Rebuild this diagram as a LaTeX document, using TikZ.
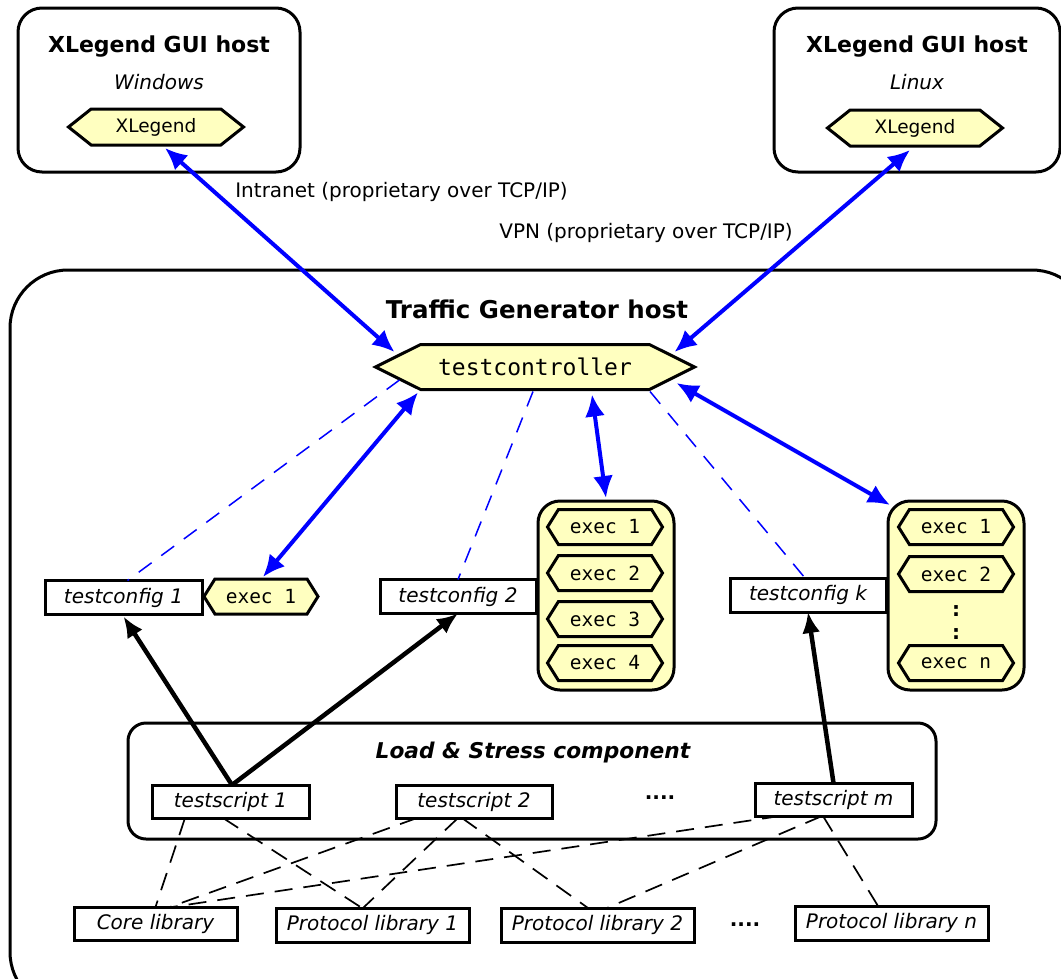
\documentclass[tikz,border=0pt]{standalone}
\usepackage{fontspec}
\setmainfont{DejaVu Sans}
\setmonofont{DejaVu Sans Mono}
\usetikzlibrary{positioning, shapes.symbols, arrows.meta}
\definecolor{execyellow}{RGB}{255,255,192}

\begin{document}
\begin{tikzpicture}
    [x=1pt, y=-1pt, outer sep=0pt,
    hostbox/.style={draw, line width=3pt, rounded corners=24pt, inner sep=0pt},
    hosttitle/.style={font=\fontsize{22}{26}\selectfont\bfseries},
    osname/.style={font=\fontsize{20}{24}\selectfont\itshape},
    hexa/.style={signal, signal to=west and east, draw, line width=3pt,
      fill=execyellow, inner sep=0pt},
    gui/.style={hexa, signal pointer angle=77, minimum width=175pt,
      minimum height=36pt, font=\fontsize{18.5}{22}\selectfont},
    execnode/.style={hexa, signal pointer angle=116, minimum width=115pt,
      minimum height=35pt, font=\ttfamily\fontsize{19.5}{22}\selectfont},
    execbox/.style={draw, line width=3pt, fill=execyellow,
      rounded corners=22pt, minimum width=136pt, minimum height=189pt},
    item/.style={draw, line width=3pt, fill=white, minimum height=34pt,
      inner sep=0pt, font=\fontsize{20}{24}\selectfont\itshape},
    label/.style={font=\fontsize{20}{24}\selectfont, anchor=west},
    more/.style={font=\fontsize{20}{24}\selectfont\bfseries},
    link/.style={draw=blue, line width=4pt, {Latex[length=22pt,width=20pt]}-{Latex[length=22pt,width=20pt]}},
    uses/.style={draw=blue, line width=1.5pt, dash pattern=on 16pt off 12pt},
    runs/.style={line width=4.5pt, -{Latex[length=21pt,width=18pt]}},
    links/.style={line width=1.7pt, dash pattern=on 18pt off 11pt}]
    \clip (0,0) rectangle (1061,978);

    % GUI hosts
    \node[hostbox, minimum width=282pt, minimum height=164pt] (win_host) at (159,90) {};
    \node[hosttitle] (win_title) at (159,47) {XLegend GUI host};
    \node[osname] (win_os) at (159,82) {Windows};
    \node[gui] (gui_win) at (156,127) {XLegend};

    \node[hostbox, minimum width=286pt, minimum height=164pt] (lin_host) at (917,90) {};
    \node[hosttitle] (lin_title) at (917,47) {XLegend GUI host};
    \node[osname] (lin_os) at (917,82) {Linux};
    \node[gui] (gui_lin) at (915,128) {XLegend};

    \node[label] (intranet) at (232,192) {Intranet (proprietary over TCP/IP)};
    \node[label] (vpn) at (496,233) {VPN (proprietary over TCP/IP)};

    % traffic generator
    \draw[line width=3pt, rounded corners=58pt] (10,270) rectangle (1090,1010);
    \node[hosttitle, font=\fontsize{24.5}{28}\selectfont\bfseries] (tg_title) at (537,309) {Traffic Generator host};
    \node[hexa, signal pointer angle=53, minimum width=319pt, minimum height=45pt,
      font=\ttfamily\fontsize{23}{26}\selectfont] (tc) at (535,367) {testcontroller};

    \node[execbox] (box_2) at (606,595.5) {};
    \foreach \n/\y in {1/527, 2/573, 3/619, 4/663}
      \node[execnode] (exec_2_\n) at (605,\y) {exec \n};
    \node[execbox] (box_k) at (956,595.5) {};
    \node[execnode] (exec_k_1) at (956,527) {exec 1};
    \node[execnode] (exec_k_2) at (956,574) {exec 2};
    \node[more] (dots_k_1) at (956,611) {:};
    \node[more] (dots_k_2) at (956,634) {:};
    \node[execnode] (exec_k_n) at (956,663) {exec n};

    \node[item, minimum width=157pt] (config_1) at (123.5,597.5) {testconfig 1};
    \node[execnode, minimum width=114pt] (exec_1_1) at (261,596.5) {exec 1};
    \node[item, minimum width=156pt] (config_2) at (458,596.5) {testconfig 2};
    \node[item, minimum width=156pt] (config_k) at (808,595) {testconfig k};

    % load & stress component
    \draw[line width=3pt, rounded corners=18pt] (128,723) rectangle (936,839);
    \node[font=\fontsize{21.7}{25}\selectfont\bfseries\itshape] (ls_title) at (533,753) {Load \& Stress component};
    \node[item, minimum width=157pt, minimum height=33pt] (script_1) at (230.5,801.5) {testscript 1};
    \node[item, minimum width=156pt, minimum height=33pt] (script_2) at (474,801.5) {testscript 2};
    \node[more] (script_dots) at (660,798) {....};
    \node[item, minimum width=157pt, minimum height=33pt] (script_m) at (833.5,799.5) {testscript m};

    \node[item, minimum width=163pt, minimum height=33pt] (core) at (155.5,923.5) {Core library};
    \node[item, minimum width=193pt] (proto_1) at (372.5,925) {Protocol library 1};
    \node[item, minimum width=193pt] (proto_2) at (597.5,925) {Protocol library 2};
    \node[more] (proto_dots) at (745,925) {....};
    \node[item, minimum width=193pt] (proto_n) at (891.5,923) {Protocol library n};

    % connections
    \draw[link] ([xshift=9pt,yshift=-3pt]gui_win.south) -- ([xshift=19pt,yshift=15pt]tc.west);
    \draw[link] ([xshift=-5pt,yshift=-4pt]gui_lin.south) -- ([xshift=-20pt,yshift=15pt]tc.east);
    \draw[link] ([xshift=-117pt,yshift=-3pt]tc.south) -- ([xshift=2pt,yshift=2pt]exec_1_1.north);
    \draw[link] ([xshift=57pt,yshift=-5pt]tc.south) -- ([yshift=3pt]box_2.north);
    \draw[link] ([xshift=-18pt,yshift=-16pt]tc.east) -- ([xshift=2pt,yshift=-4pt]box_k.north west);

    \draw[uses] ([xshift=24pt,yshift=-13pt]tc.west) -- ([xshift=4pt]config_1.north);
    \draw[uses] ([xshift=-2pt,yshift=-2pt]tc.south) -- (config_2.north);
    \draw[uses] ([xshift=115pt,yshift=-2pt]tc.south) -- ([xshift=-3pt]config_k.north);

    \draw[runs] ([xshift=1.5pt]script_1.north) -- ([yshift=-2pt]config_1.south);
    \draw[runs] ([xshift=1.5pt]script_1.north) -- (config_2.south);
    \draw[runs] (script_m.north) -- (config_k.south);

    \draw[links] ([xshift=-45.5pt]script_1.south) -- (core.north);
    \draw[links] ([xshift=-7.5pt]script_1.south) -- ([xshift=-10.5pt]proto_1.north);
    \draw[links] ([xshift=-57pt]script_2.south) -- ([xshift=14.5pt]core.north);
    \draw[links] ([xshift=-16pt]script_2.south) -- ([xshift=-9.5pt]proto_1.north);
    \draw[links] ([xshift=-12pt]script_2.south) -- ([xshift=-9.5pt]proto_2.north);
    \draw[links] ([xshift=-53.5pt]script_m.south) -- ([xshift=16.5pt]core.north);
    \draw[links] ([xshift=-11.5pt]script_m.south) -- ([xshift=9.5pt]proto_2.north);
    \draw[links] ([xshift=-10.5pt]script_m.south) -- ([xshift=-13.5pt]proto_n.north);
\end{tikzpicture}
\end{document}
